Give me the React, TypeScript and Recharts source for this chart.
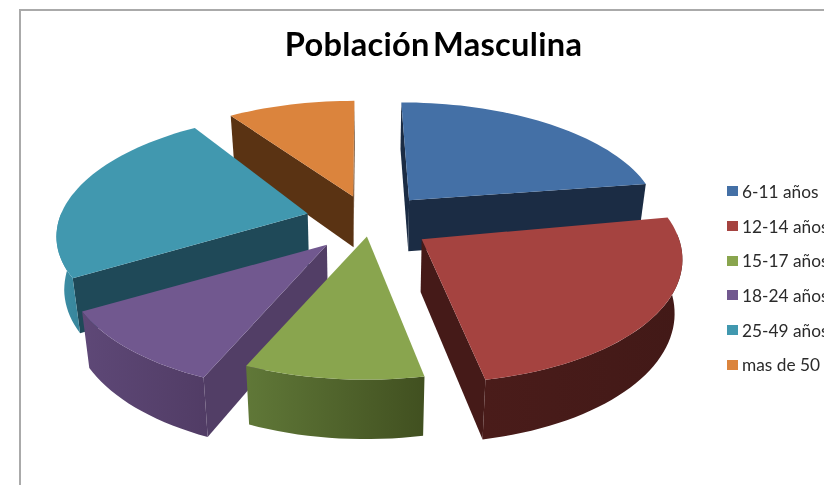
import React from "react"
import { PieChart, Pie, Legend } from "recharts"

const CATEGORIES = ["6-11 años", "12-14 años", "15-17 años", "18-24 años", "25-49 años", "mas de 50"]
const VALUES = [82, 87, 34, 36, 86.5, 34.5]

const TOP_COLORS = ["#4470a6", "#a54340", "#89a54e", "#71588f", "#4198af", "#db843d"]
const SIDE_COLORS = ["#1b2c44", "#451a18", "#5a7032", "#523e66", "#1f4958", "#5a3313"]
const WALL_FROM = ["#1b2c44", "#4a1c1a", "#607838", "#5e4877", "#3c90a7", "#5a3313"]
const WALL_TO = ["#1b2c44", "#421917", "#415020", "#513c65", "#38859b", "#5a3313"]

// back slices first, so the nearer ones paint over their walls
const DRAW_ORDER = [5, 0, 4, 1, 3, 2]

const tableData = CATEGORIES.map((name, i) => ({ name, value: VALUES[i] }))

const TILT = 0.465
const PERSPECTIVE = 0.00065
const THICKNESS = 52
const SHRINK = 0.975
const EXPLODE = [55, 55, 20, 55, 55, 55]
// small per-slice corrections on screen, the original's 3D view is not a clean projection
const RIM_NUDGE = [[0, -5], [0, -4], [-3, 1], [-2, -2], [-3, -5], [-3, -3]]
const APEX_NUDGE = [[3, -4], [5, 1], [-2, 4], [-7, 2], [-10, -4], [-2, -3]]

const rad = (d: number) => (d * Math.PI) / 180

function Slice3D(props: any) {
  const { cx, cy, outerRadius, startAngle, endAngle, name } = props
  const idx = CATEGORIES.indexOf(name)
  // clockwise degrees from 12 o'clock
  const a1 = 90 - startAngle
  const a2 = 90 - endAngle
  const mid = (a1 + a2) / 2
  const ou = EXPLODE[idx] * Math.sin(rad(mid))
  const ov = -EXPLODE[idx] * Math.cos(rad(mid))

  const project = (u: number, v: number, bottom: boolean, nudge: number[]) => {
    const s = 1 / (1 - PERSPECTIVE * v)
    const sx = bottom ? s * SHRINK : s
    return [cx + u * sx + nudge[0], cy + TILT * v * sx + (bottom ? THICKNESS * s : 0) + nudge[1]]
  }
  const rim = (a: number, bottom: boolean) =>
    project(ou + outerRadius * Math.sin(rad(a)), ov - outerRadius * Math.cos(rad(a)), bottom, RIM_NUDGE[idx])
  const apex = (bottom: boolean) => project(ou, ov, bottom, APEX_NUDGE[idx])
  const path = (pts: number[][]) => "M" + pts.map((p) => `${p[0].toFixed(1)},${p[1].toFixed(1)}`).join("L") + "Z"

  const arc = (from: number, to: number, bottom: boolean) => {
    const pts = []
    const n = Math.max(2, Math.ceil((to - from) / 2))
    for (let i = 0; i <= n; i++) pts.push(rim(from + ((to - from) * i) / n, bottom))
    return pts
  }

  const wallFrom = Math.max(a1, 90)
  const wallTo = Math.min(a2, 270)
  const hasWall = wallTo > wallFrom

  const sideFacing = (a: number) => {
    const p = apex(false)
    const r = rim(a, false)
    const b = rim(a, true)
    return (r[0] - p[0]) * (b[1] - p[1]) - (r[1] - p[1]) * (b[0] - p[0])
  }
  const sideWall = (a: number) => path([apex(false), rim(a, false), rim(a, true), apex(true)])
  const gradId = `wall-${idx}`

  return (
    <g>
      <defs>
        <linearGradient id={gradId} x1="0" y1="0" x2="1" y2="0">
          <stop offset="0%" stopColor={WALL_FROM[idx]} />
          <stop offset="100%" stopColor={WALL_TO[idx]} />
        </linearGradient>
      </defs>
      {sideFacing(a1) < 0 && <path d={sideWall(a1)} fill={SIDE_COLORS[idx]} />}
      {sideFacing(a2) > 0 && <path d={sideWall(a2)} fill={SIDE_COLORS[idx]} />}
      {hasWall && (
        <path
          d={path([...arc(wallFrom, wallTo, false), ...arc(wallFrom, wallTo, true).reverse()])}
          fill={`url(#${gradId})`}
        />
      )}
      <path d={path([apex(false), ...arc(a1, a2, false)])} fill={TOP_COLORS[idx]} />
    </g>
  )
}

function LegendList() {
  return (
    <div>
      {CATEGORIES.map((c, i) => (
        <div key={c} style={{ display: "flex", alignItems: "center", height: 34.7, whiteSpace: "nowrap" }}>
          <span style={{ width: 11, height: 10, background: TOP_COLORS[i], marginRight: 4, flex: "none" }} />
          <span style={{ fontFamily: "Lato", fontSize: 17.3, color: "#2a2a2a" }}>{c}</span>
        </div>
      ))}
    </div>
  )
}

export default function App() {
  return (
    <div style={{ position: "fixed", left: 0, top: 0, width: 824, height: 485, overflow: "hidden", background: "#fff", filter: "blur(0.5px)" }}>
      <div style={{ position: "absolute", left: 19, top: 9, width: 900, height: 600, border: "2px solid #aaa" }} />
      <div style={{ position: "absolute", left: 0, width: 867, top: 24, textAlign: "center", fontFamily: "Lato", fontWeight: 700, fontSize: 32.6, letterSpacing: 0.3, wordSpacing: -5, color: "#000", whiteSpace: "nowrap" }}>
        Población Masculina
      </div>
      <PieChart width={824} height={485} style={{ position: "absolute", left: 0, top: 0 }}>
        {DRAW_ORDER.map((i) => (
          <Pie
            key={i}
            data={tableData}
            dataKey="value"
            nameKey="name"
            cx={366}
            cy={218}
            outerRadius={255}
            startAngle={90}
            endAngle={-270}
            stroke="none"
            isAnimationActive={false}
            legendType="none"
            shape={(p: any) => (p.name === CATEGORIES[i] ? <Slice3D {...p} /> : <g />)}
          />
        ))}
        <Legend
          content={<LegendList />}
          wrapperStyle={{ position: "absolute", left: 727, top: 174, width: 120, bottom: "auto", right: "auto" }}
        />
      </PieChart>
    </div>
  )
}
